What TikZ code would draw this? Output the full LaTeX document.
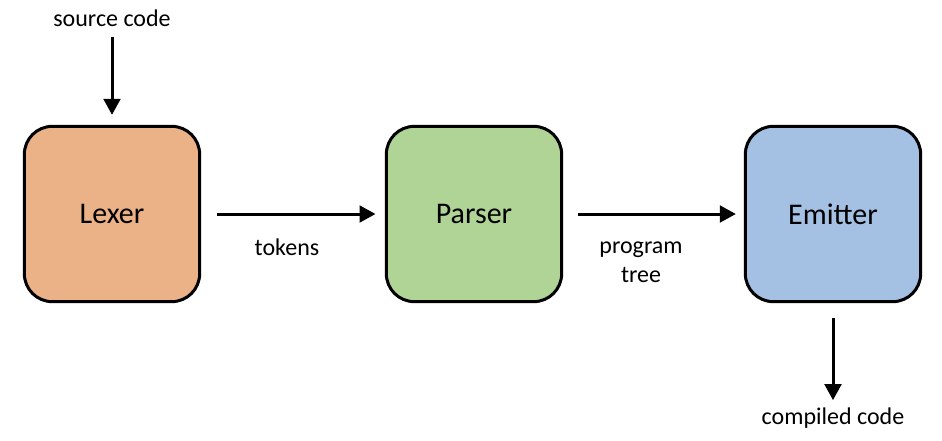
\documentclass[tikz,border=0pt]{standalone}
\usepackage{fontspec}
\setmainfont{Carlito}
\usetikzlibrary{arrows.meta}

\definecolor{lexfill}{RGB}{235,178,136}
\definecolor{parfill}{RGB}{176,211,150}
\definecolor{emifill}{RGB}{164,193,228}

\tikzset{every picture/.style={line width=0.75pt}}
\tikzset{
  stage/.style={draw, line width=2.25pt, rounded corners=21pt, minimum width=131.5pt, minimum height=131.5pt, font=\fontsize{22.5}{27}\selectfont},
  flow/.style={line width=2.25pt, -{Triangle[length=12pt,width=12.5pt]}},
  lbl/.style={font=\fontsize{18}{22}\selectfont, align=center}
}

\begin{document}
\begin{tikzpicture}[x=0.75pt,y=0.75pt,yscale=-1,xscale=1]
	\useasboundingbox (0,0) rectangle (942,440);

	% Stages
	\node[stage, fill=lexfill] (lexer) at (112,214) {Lexer};
	\node[stage, fill=parfill] (parser) at (474,214) {Parser};
	\node[stage, fill=emifill] (emitter) at (833,214) {Emitter};

	% Text Node
	\node[lbl] (src) at (112,18) {source code};
	% Text Node
	\node[lbl] (tok) at (287,247) {tokens};
	% Text Node
	\node[lbl] (tree) at (641,262) {program\\tree};
	% Text Node
	\node[lbl] (out) at (833,418) {compiled code};

	% Connectors
	\draw[flow, shorten <=4pt, shorten >=7.5pt] (src.south) -- (lexer.north);
	\draw[flow, shorten <=12pt, shorten >=7pt] (lexer.east) -- (parser.west);
	\draw[flow, shorten <=11pt, shorten >=6pt] (parser.east) -- (emitter.west);
	\draw[flow, shorten <=11pt, shorten >=2pt] (emitter.south) -- (out.north);

\end{tikzpicture}
\end{document}
